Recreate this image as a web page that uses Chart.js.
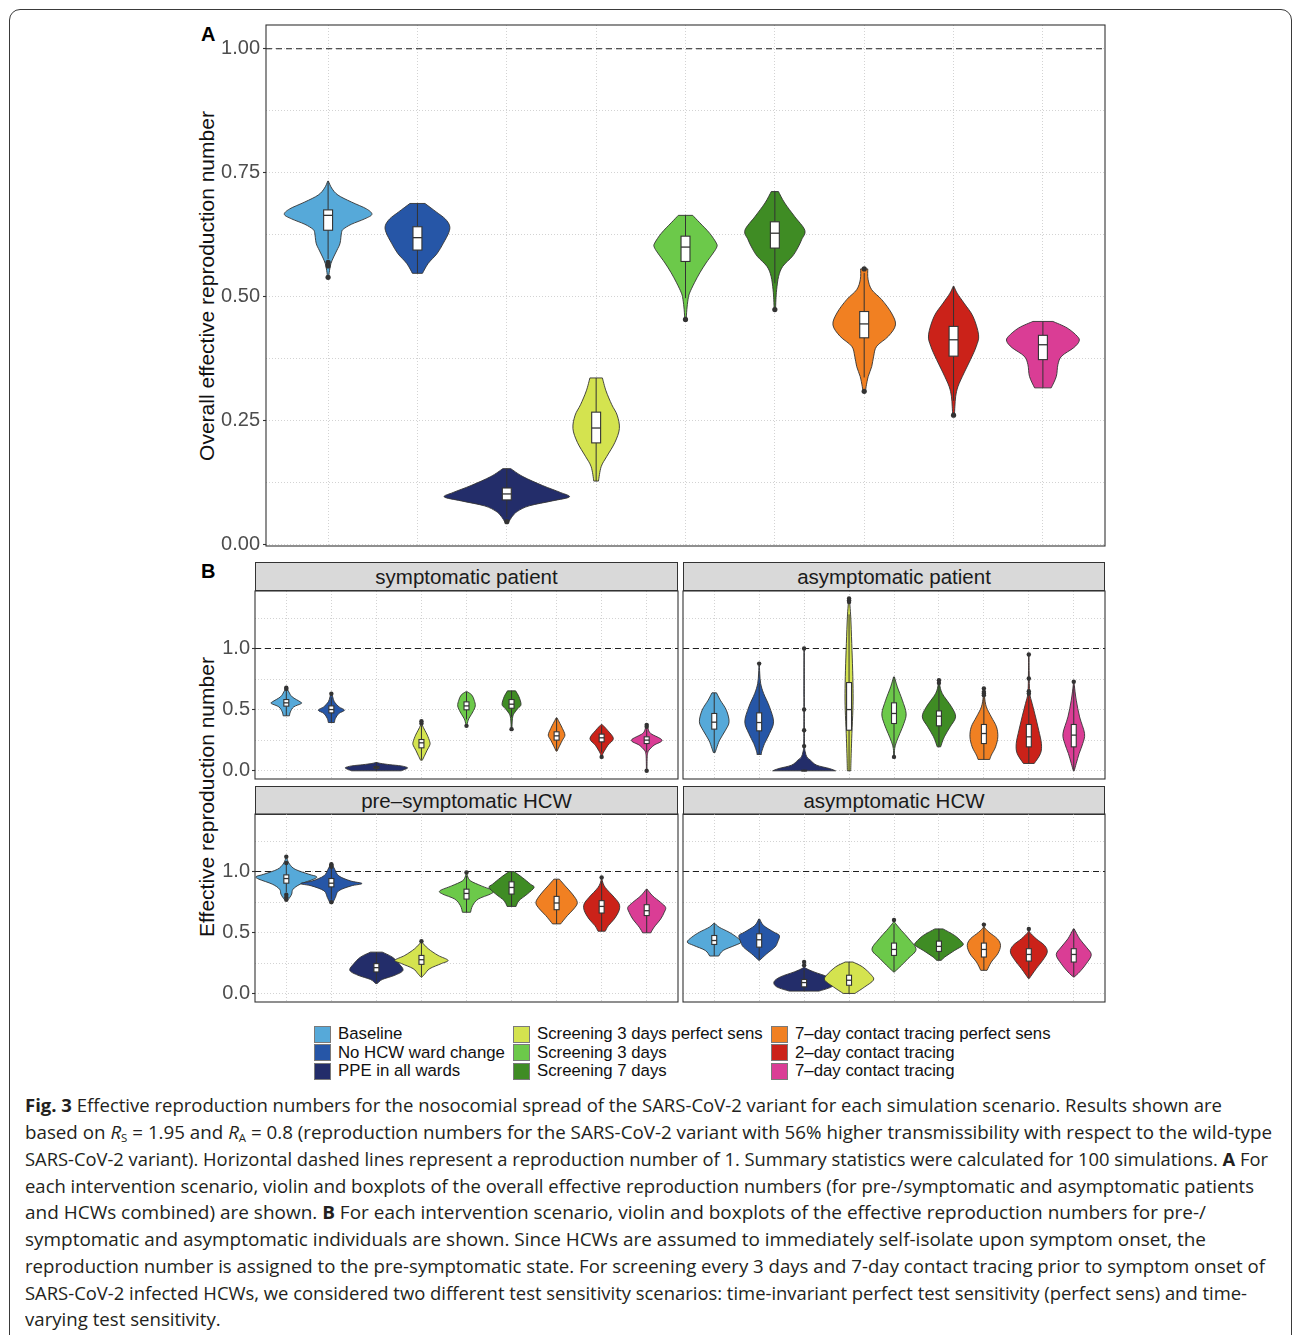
<!DOCTYPE html>
<html>
<head>
<meta charset="utf-8">
<title>Effective reproduction numbers by scenario</title>
<script src="https://cdn.jsdelivr.net/npm/chart.js@4.4.1/dist/chart.umd.min.js"></script>
<style>
html,body{margin:0;padding:0;background:#fff;}
body{width:1293px;height:1335px;position:relative;overflow:hidden;font-family:"Liberation Sans",Arial,sans-serif;}
#frame{position:absolute;left:9px;top:9px;width:1283px;height:1400px;border:1.3px solid #3a3a3a;border-radius:11px;box-sizing:border-box;}
canvas{position:absolute;}
.tag{position:absolute;font-weight:bold;font-size:20px;line-height:20px;color:#000;}
.ytitle{position:absolute;font-size:21px;line-height:24px;color:#111;white-space:nowrap;transform:translate(-50%,-50%) rotate(-90deg);}
.strip{position:absolute;box-sizing:border-box;background:#d9d9d9;border:1px solid #333;font-size:20.5px;line-height:27px;color:#1a1a1a;text-align:center;}
.leg-key{position:absolute;width:17px;height:17px;box-sizing:border-box;border:1px solid #7a7a7a;}
.leg-txt{position:absolute;font-size:16.8px;line-height:18px;color:#111;white-space:nowrap;}
.cap{position:absolute;left:25px;font-family:"Open Sans",sans-serif;font-size:18px;line-height:26px;color:#231f20;white-space:nowrap;transform-origin:0 50%;}
.cap b{font-weight:700;}
.cap sub{font-size:11px;vertical-align:-3px;line-height:0;}
</style>
</head>
<body>
<div id="frame"></div>

<div class="tag" style="left:201px;top:24px;">A</div>
<div class="tag" style="left:201px;top:561px;">B</div>
<div class="ytitle" style="left:207px;top:286px;">Overall effective reproduction number</div>
<div class="ytitle" style="left:207px;top:797px;">Effective reproduction number</div>

<div class="strip" style="left:255px;top:562px;width:423px;height:29px;">symptomatic patient</div>
<div class="strip" style="left:683px;top:562px;width:422px;height:29px;">asymptomatic patient</div>
<div class="strip" style="left:255px;top:786px;width:423px;height:29px;">pre&#8211;symptomatic HCW</div>
<div class="strip" style="left:683px;top:786px;width:422px;height:29px;">asymptomatic HCW</div>

<div id="legend"></div>

<div class="cap" style="top:1092px;"><b>Fig. 3</b> Effective reproduction numbers for the nosocomial spread of the SARS-CoV-2 variant for each simulation scenario. Results shown are</div>
<div class="cap" style="top:1119px;">based on <i>R</i><sub>S</sub> = 1.95 and <i>R</i><sub>A</sub> = 0.8 (reproduction numbers for the SARS-CoV-2 variant with 56% higher transmissibility with respect to the wild-type</div>
<div class="cap" style="top:1146px;">SARS-CoV-2 variant). Horizontal dashed lines represent a reproduction number of 1. Summary statistics were calculated for 100 simulations. <b>A</b> For</div>
<div class="cap" style="top:1173px;">each intervention scenario, violin and boxplots of the overall effective reproduction numbers (for pre-/symptomatic and asymptomatic patients</div>
<div class="cap" style="top:1199px;">and HCWs combined) are shown. <b>B</b> For each intervention scenario, violin and boxplots of the effective reproduction numbers for pre-/</div>
<div class="cap" style="top:1226px;">symptomatic and asymptomatic individuals are shown. Since HCWs are assumed to immediately self-isolate upon symptom onset, the</div>
<div class="cap" style="top:1253px;">reproduction number is assigned to the pre-symptomatic state. For screening every 3 days and 7-day contact tracing prior to symptom onset of</div>
<div class="cap" style="top:1280px;">SARS-CoV-2 infected HCWs, we considered two different test sensitivity scenarios: time-invariant perfect test sensitivity (perfect sens) and time-</div>
<div class="cap" style="top:1306px;">varying test sensitivity.</div>

<script>
// ---- scenarios -------------------------------------------------------------
const scenarios = [
  'Baseline', 'No HCW ward change', 'PPE in all wards',
  'Screening 3 days perfect sens', 'Screening 3 days', 'Screening 7 days',
  '7\u2013day contact tracing perfect sens', '2\u2013day contact tracing', '7\u2013day contact tracing'
];
const fills = ['#56a9d9', '#2656a7', '#232d6a', '#d4e34f', '#6cc94a', '#3f8c24', '#f18022', '#cb2219', '#da3d95'];
const xCategories = [1, 2, 3, 4, 5, 6, 7, 8, 9];

// ---- axis ticks --------------------------------------------------------------
const overallTicks = [0, 0.25, 0.5, 0.75, 1.0];
const overallTickLabels = ['0.00', '0.25', '0.50', '0.75', '1.00'];
const overallMinor = [0.125, 0.375, 0.625, 0.875];
const typeTicks = [0, 0.5, 1.0];
const typeTickLabels = ['0.0', '0.5', '1.0'];
const typeMinor = [0.25, 0.75, 1.25];
const refValue = 1;

// ---- A: overall R (box stats = [lower whisker, Q1, median, Q3, upper whisker]) ----
const overallStats = [
  [0.576, 0.634, 0.664, 0.675, 0.733],
  [0.547, 0.594, 0.619, 0.641, 0.688],
  [0.055, 0.090, 0.102, 0.114, 0.153],
  [0.128, 0.205, 0.235, 0.267, 0.336],
  [0.497, 0.571, 0.600, 0.622, 0.664],
  [0.527, 0.598, 0.628, 0.651, 0.712],
  [0.337, 0.417, 0.445, 0.470, 0.548],
  [0.290, 0.380, 0.413, 0.440, 0.521],
  [0.316, 0.373, 0.403, 0.422, 0.450]
];
const overallOutliers = [[0.569, 0.562, 0.539], [], [0.046], [], [0.454], [0.474], [0.556, 0.309], [0.261], []];
// kernel density profiles: [R value, half-width in category units]
const overallDensity = [
  [[0.539,0.006],[0.553,0.016],[0.567,0.032],[0.580,0.062],[0.594,0.10],[0.608,0.134],[0.629,0.15],[0.636,0.17],[0.646,0.26],[0.657,0.41],[0.666,0.49],[0.677,0.43],[0.691,0.26],[0.705,0.11],[0.719,0.04],[0.733,0.004]],
  [[0.547,0.056],[0.567,0.12],[0.587,0.22],[0.608,0.29],[0.629,0.35],[0.643,0.36],[0.657,0.31],[0.671,0.21],[0.688,0.084]],
  [[0.045,0.02],[0.057,0.063],[0.067,0.12],[0.078,0.25],[0.088,0.51],[0.096,0.70],[0.105,0.60],[0.119,0.40],[0.137,0.18],[0.153,0.045]],
  [[0.128,0.026],[0.157,0.056],[0.178,0.12],[0.206,0.21],[0.234,0.26],[0.261,0.235],[0.282,0.175],[0.310,0.11],[0.336,0.07]],
  [[0.454,0.008],[0.474,0.015],[0.494,0.028],[0.507,0.045],[0.528,0.10],[0.548,0.16],[0.568,0.23],[0.588,0.31],[0.600,0.35],[0.608,0.345],[0.628,0.27],[0.649,0.16],[0.664,0.08]],
  [[0.474,0.008],[0.494,0.012],[0.514,0.02],[0.541,0.042],[0.561,0.088],[0.581,0.195],[0.598,0.255],[0.615,0.30],[0.634,0.335],[0.662,0.22],[0.689,0.11],[0.712,0.04]],
  [[0.309,0.015],[0.319,0.022],[0.339,0.045],[0.359,0.084],[0.380,0.106],[0.400,0.14],[0.420,0.27],[0.443,0.35],[0.467,0.305],[0.494,0.196],[0.514,0.084],[0.535,0.043],[0.556,0.04]],
  [[0.261,0.01],[0.279,0.015],[0.299,0.024],[0.319,0.05],[0.346,0.117],[0.373,0.19],[0.400,0.255],[0.423,0.28],[0.460,0.218],[0.487,0.117],[0.507,0.04],[0.521,0.004]],
  [[0.316,0.093],[0.339,0.15],[0.363,0.168],[0.380,0.21],[0.397,0.345],[0.410,0.405],[0.420,0.385],[0.437,0.27],[0.450,0.112]]
];

// ---- B: symptomatic patient ---------------------------------------------------
const symPatientStats = [
  [0.45, 0.529, 0.556, 0.583, 0.66],
  [0.395, 0.474, 0.501, 0.531, 0.60],
  [0.0, 0.020, 0.027, 0.035, 0.065],
  [0.09, 0.188, 0.229, 0.256, 0.37],
  [0.42, 0.499, 0.531, 0.564, 0.646],
  [0.44, 0.512, 0.545, 0.583, 0.654],
  [0.165, 0.251, 0.286, 0.319, 0.433],
  [0.15, 0.237, 0.270, 0.300, 0.37],
  [0.15, 0.223, 0.251, 0.278, 0.34]
];
const symPatientOutliers = [[0.68, 0.67], [0.63], [], [0.406, 0.387], [0.368], [0.341], [], [0.114], [0.376, 0.36, 0.0]];
const symPatientDensity = [
  [[0.45,0.07],[0.482,0.09],[0.523,0.165],[0.55,0.33],[0.564,0.31],[0.605,0.13],[0.646,0.055],[0.68,0.01]],
  [[0.395,0.067],[0.428,0.09],[0.469,0.165],[0.496,0.29],[0.523,0.17],[0.564,0.067],[0.605,0.03],[0.632,0.01]],
  [[0.0,0.55],[0.01,0.62],[0.025,0.69],[0.04,0.55],[0.05,0.30],[0.06,0.10],[0.068,0.02]],
  [[0.087,0.02],[0.128,0.074],[0.169,0.126],[0.21,0.185],[0.237,0.185],[0.292,0.13],[0.332,0.074],[0.373,0.02],[0.406,0.008]],
  [[0.368,0.008],[0.414,0.037],[0.441,0.074],[0.482,0.14],[0.531,0.195],[0.578,0.17],[0.619,0.12],[0.646,0.02]],
  [[0.341,0.008],[0.428,0.02],[0.469,0.055],[0.51,0.14],[0.542,0.21],[0.605,0.165],[0.654,0.09]],
  [[0.161,0.01],[0.21,0.074],[0.251,0.13],[0.292,0.185],[0.346,0.13],[0.387,0.074],[0.433,0.01]],
  [[0.114,0.008],[0.142,0.03],[0.169,0.07],[0.21,0.14],[0.264,0.26],[0.332,0.13],[0.379,0.01]],
  [[0.0,0.006],[0.1,0.01],[0.142,0.02],[0.169,0.05],[0.21,0.165],[0.251,0.34],[0.305,0.09],[0.346,0.03],[0.376,0.01]]
];

// ---- B: asymptomatic patient ------------------------------------------------
const asymPatientStats = [
  [0.15, 0.341, 0.398, 0.469, 0.638],
  [0.134, 0.327, 0.395, 0.474, 0.72],
  [0.0, 0.0, 0.0, 0.005, 0.01],
  [0.0, 0.332, 0.501, 0.722, 1.28],
  [0.19, 0.387, 0.469, 0.556, 0.768],
  [0.196, 0.368, 0.447, 0.49, 0.70],
  [0.093, 0.223, 0.305, 0.379, 0.60],
  [0.06, 0.196, 0.278, 0.379, 0.64],
  [0.0, 0.196, 0.292, 0.379, 0.70]
];
const asymPatientOutliers = [[], [0.877], [1.0, 0.501, 0.332, 0.202], [1.41, 1.395, 1.38], [0.114], [0.741, 0.719], [0.673, 0.646, 0.632, 0.619], [0.951, 0.755, 0.651, 0.632], [0.728]];
const asymPatientDensity = [
  [[0.15,0.02],[0.183,0.05],[0.251,0.12],[0.332,0.25],[0.401,0.33],[0.496,0.27],[0.578,0.135],[0.638,0.05]],
  [[0.134,0.05],[0.155,0.055],[0.223,0.12],[0.305,0.23],[0.401,0.32],[0.523,0.23],[0.632,0.10],[0.714,0.033],[0.80,0.012],[0.877,0.005]],
  [[0.0,0.70],[0.019,0.56],[0.046,0.28],[0.087,0.14],[0.114,0.06],[0.155,0.025],[0.2,0.01],[0.35,0.006],[0.6,0.005],[1.0,0.004]],
  [[0.0,0.037],[0.142,0.048],[0.305,0.063],[0.496,0.085],[0.632,0.09],[0.823,0.08],[1.041,0.06],[1.259,0.037],[1.41,0.008]],
  [[0.114,0.008],[0.183,0.015],[0.237,0.055],[0.305,0.13],[0.387,0.22],[0.469,0.27],[0.578,0.185],[0.687,0.074],[0.768,0.01]],
  [[0.196,0.037],[0.278,0.12],[0.36,0.25],[0.441,0.37],[0.523,0.28],[0.632,0.074],[0.708,0.015],[0.741,0.008]],
  [[0.093,0.13],[0.128,0.165],[0.196,0.26],[0.278,0.31],[0.36,0.28],[0.441,0.165],[0.523,0.055],[0.605,0.015],[0.673,0.008]],
  [[0.06,0.12],[0.142,0.26],[0.223,0.28],[0.332,0.22],[0.441,0.15],[0.55,0.074],[0.638,0.02],[0.8,0.008],[0.951,0.005]],
  [[0.0,0.01],[0.06,0.055],[0.142,0.12],[0.223,0.2],[0.305,0.24],[0.441,0.13],[0.578,0.055],[0.70,0.012],[0.728,0.006]]
];

// ---- B: pre-symptomatic HCW -------------------------------------------------
const preHcwStats = [
  [0.83, 0.905, 0.943, 0.973, 1.06],
  [0.77, 0.875, 0.905, 0.943, 1.03],
  [0.09, 0.179, 0.214, 0.247, 0.341],
  [0.14, 0.241, 0.279, 0.314, 0.42],
  [0.667, 0.775, 0.821, 0.856, 0.965],
  [0.715, 0.816, 0.870, 0.916, 1.0],
  [0.572, 0.688, 0.743, 0.797, 0.938],
  [0.512, 0.661, 0.715, 0.762, 0.92],
  [0.499, 0.640, 0.680, 0.729, 0.856]
];
const preHcwOutliers = [[1.122, 1.07, 0.81, 0.79, 0.77], [1.06, 1.05, 1.04, 0.75], [], [0.431], [0.992], [], [], [0.951], []];
const preHcwDensity = [
  [[0.77,0.04],[0.79,0.08],[0.816,0.12],[0.856,0.15],[0.897,0.31],[0.938,0.61],[0.959,0.67],[0.978,0.50],[1.019,0.195],[1.06,0.074],[1.10,0.02],[1.122,0.006]],
  [[0.75,0.04],[0.789,0.09],[0.843,0.165],[0.883,0.44],[0.902,0.68],[0.924,0.42],[0.965,0.165],[1.019,0.074],[1.06,0.02],[1.073,0.006]],
  [[0.084,0.02],[0.117,0.13],[0.152,0.41],[0.192,0.59],[0.247,0.50],[0.301,0.35],[0.341,0.13]],
  [[0.136,0.01],[0.165,0.08],[0.206,0.185],[0.247,0.44],[0.274,0.59],[0.314,0.37],[0.369,0.15],[0.423,0.01],[0.431,0.006]],
  [[0.667,0.09],[0.721,0.135],[0.775,0.26],[0.816,0.53],[0.843,0.59],[0.883,0.33],[0.924,0.09],[0.965,0.02],[0.992,0.006]],
  [[0.715,0.1],[0.762,0.165],[0.816,0.35],[0.870,0.50],[0.897,0.42],[0.951,0.24],[1.0,0.055]],
  [[0.572,0.09],[0.64,0.24],[0.694,0.38],[0.748,0.46],[0.816,0.35],[0.883,0.19],[0.938,0.06]],
  [[0.512,0.08],[0.558,0.15],[0.612,0.28],[0.68,0.385],[0.734,0.39],[0.789,0.28],[0.87,0.08],[0.924,0.015],[0.951,0.006]],
  [[0.499,0.09],[0.545,0.165],[0.612,0.31],[0.667,0.39],[0.707,0.42],[0.748,0.31],[0.802,0.13],[0.856,0.01]]
];

// ---- B: asymptomatic HCW ----------------------------------------------------
const asymHcwStats = [
  [0.31, 0.404, 0.436, 0.477, 0.577],
  [0.28, 0.382, 0.442, 0.491, 0.60],
  [0.022, 0.057, 0.092, 0.117, 0.20],
  [0.0, 0.070, 0.111, 0.152, 0.26],
  [0.18, 0.314, 0.363, 0.415, 0.57],
  [0.274, 0.347, 0.388, 0.431, 0.531],
  [0.192, 0.301, 0.363, 0.415, 0.545],
  [0.13, 0.268, 0.322, 0.369, 0.50],
  [0.14, 0.260, 0.322, 0.369, 0.531]
];
const asymHcwOutliers = [[], [], [0.260, 0.233], [], [0.604], [], [0.566], [0.531], []];
const asymHcwDensity = [
  [[0.309,0.1],[0.355,0.2],[0.396,0.46],[0.423,0.60],[0.463,0.50],[0.504,0.33],[0.545,0.11],[0.577,0.01]],
  [[0.274,0.01],[0.328,0.17],[0.382,0.35],[0.423,0.41],[0.477,0.45],[0.504,0.33],[0.558,0.1],[0.612,0.01]],
  [[0.022,0.33],[0.057,0.61],[0.098,0.67],[0.138,0.53],[0.179,0.22],[0.211,0.03],[0.233,0.01],[0.26,0.006]],
  [[0.003,0.13],[0.057,0.35],[0.111,0.54],[0.152,0.50],[0.22,0.3],[0.26,0.085]],
  [[0.179,0.01],[0.22,0.13],[0.287,0.31],[0.363,0.49],[0.45,0.33],[0.518,0.165],[0.585,0.015],[0.604,0.006]],
  [[0.274,0.055],[0.301,0.13],[0.355,0.35],[0.396,0.53],[0.423,0.51],[0.477,0.35],[0.531,0.09]],
  [[0.192,0.07],[0.26,0.165],[0.328,0.31],[0.396,0.37],[0.45,0.3],[0.504,0.115],[0.545,0.01],[0.566,0.006]],
  [[0.125,0.01],[0.206,0.165],[0.274,0.31],[0.341,0.41],[0.396,0.35],[0.45,0.165],[0.504,0.02],[0.531,0.006]],
  [[0.138,0.01],[0.179,0.13],[0.247,0.28],[0.32,0.39],[0.382,0.28],[0.45,0.13],[0.531,0.01]]
];

// ---- drawing ----------------------------------------------------------------
const FONT = '"Liberation Sans", Arial, sans-serif';
const gridColor = '#d3d3d3';
const gridDash = [1, 2];
const outline = '#333333';

// Catmull-Rom path through a list of pixel points
function smooth(ctx, pts) {
  for (let i = 0; i < pts.length - 1; i++) {
    const p0 = pts[Math.max(i - 1, 0)], p1 = pts[i], p2 = pts[i + 1], p3 = pts[Math.min(i + 2, pts.length - 1)];
    ctx.bezierCurveTo(
      p1.x + (p2.x - p0.x) / 6, p1.y + (p2.y - p0.y) / 6,
      p2.x - (p3.x - p1.x) / 6, p2.y - (p3.y - p1.y) / 6,
      p2.x, p2.y);
  }
}

// violins, boxplots, reference line and panel border for one panel
function violinLayer(p) {
  return {
    id: 'violinLayer',
    beforeDatasetsDraw(chart) {
      const {ctx, chartArea: a, scales} = chart;
      const xs = scales.x, ys = scales.y;
      const unit = xs.getPixelForValue(2) - xs.getPixelForValue(1);
      ctx.save();
      ctx.beginPath();
      ctx.rect(a.left, a.top, a.right - a.left, a.bottom - a.top);
      ctx.clip();

      const yr = ys.getPixelForValue(refValue);
      ctx.setLineDash([6, 4]);
      ctx.lineWidth = 1.1;
      ctx.strokeStyle = '#1f1f1f';
      ctx.beginPath();
      ctx.moveTo(a.left, yr);
      ctx.lineTo(a.right, yr);
      ctx.stroke();
      ctx.setLineDash([]);

      p.density.forEach((prof, i) => {
        const cx = xs.getPixelForValue(xCategories[i]);
        const right = prof.map(([v, w]) => ({x: cx + w * unit, y: ys.getPixelForValue(v)}));
        const left = prof.map(([v, w]) => ({x: cx - w * unit, y: ys.getPixelForValue(v)})).reverse();
        ctx.beginPath();
        ctx.moveTo(left[left.length - 1].x, left[left.length - 1].y);
        ctx.lineTo(right[0].x, right[0].y);
        smooth(ctx, right);
        ctx.lineTo(left[0].x, left[0].y);
        smooth(ctx, left);
        ctx.closePath();
        ctx.fillStyle = fills[i];
        ctx.fill();
        ctx.lineWidth = 0.9;
        ctx.strokeStyle = outline;
        ctx.stroke();
      });

      p.stats.forEach(([lo, q1, med, q3, hi], i) => {
        const cx = xs.getPixelForValue(xCategories[i]);
        const half = p.boxW * unit / 2;
        const yLo = ys.getPixelForValue(lo), yQ1 = ys.getPixelForValue(q1), yMed = ys.getPixelForValue(med);
        const yQ3 = ys.getPixelForValue(q3), yHi = ys.getPixelForValue(hi);
        ctx.strokeStyle = outline;
        ctx.lineWidth = 1;
        ctx.beginPath();
        ctx.moveTo(cx, yLo); ctx.lineTo(cx, yQ1);
        ctx.moveTo(cx, yQ3); ctx.lineTo(cx, yHi);
        ctx.stroke();
        ctx.fillStyle = '#ffffff';
        ctx.fillRect(cx - half, yQ3, 2 * half, yQ1 - yQ3);
        ctx.lineWidth = 1.1;
        ctx.strokeRect(cx - half, yQ3, 2 * half, yQ1 - yQ3);
        ctx.beginPath();
        ctx.moveTo(cx - half, yMed); ctx.lineTo(cx + half, yMed);
        ctx.lineWidth = 1.3;
        ctx.stroke();
      });
      ctx.restore();
    },
    afterDraw(chart) {
      const {ctx, chartArea: a} = chart;
      ctx.save();
      ctx.lineWidth = 1.1;
      ctx.strokeStyle = outline;
      ctx.strokeRect(a.left, a.top, a.right - a.left, a.bottom - a.top);
      ctx.restore();
    }
  };
}

function buildPanel(p) {
  const P = 14;
  const c = document.createElement('canvas');
  c.width = p.area[2] + p.axisW + 2 * P;
  c.height = p.area[3] + 2 * P;
  c.style.left = (p.area[0] - p.axisW - P) + 'px';
  c.style.top = (p.area[1] - P) + 'px';
  document.body.appendChild(c);

  const yGrid = [...p.majors, ...p.minor].sort((a, b) => a - b);
  const majorIndex = v => p.majors.findIndex(m => Math.abs(m - v) < 1e-9);

  const datasets = p.outliers.map((vals, i) => ({
    label: scenarios[i],
    data: vals.map(v => ({x: xCategories[i], y: v})),
    pointRadius: p.dot,
    pointHoverRadius: p.dot,
    pointBackgroundColor: outline,
    pointBorderWidth: 0,
    borderColor: outline,
    backgroundColor: outline
  }));

  return new Chart(c, {
    type: 'scatter',
    data: {datasets},
    options: {
      responsive: false,
      animation: false,
      events: [],
      layout: {padding: P, autoPadding: false},
      plugins: {legend: {display: false}, tooltip: {enabled: false}},
      scales: {
        x: {
          type: 'linear', min: 0.305, max: 9.695, bounds: 'data',
          afterBuildTicks: s => { s.ticks = xCategories.map(v => ({value: v})); },
          afterFit: s => { s.height = 0; s.paddingLeft = 0; s.paddingRight = 0; },
          ticks: {display: false},
          grid: {color: gridColor, lineWidth: 1, drawTicks: false},
          border: {display: false, dash: gridDash}
        },
        y: {
          type: 'linear', min: p.yMin, max: p.yMax, bounds: 'data',
          afterBuildTicks: s => { s.ticks = yGrid.map(v => ({value: v})); },
          afterFit: s => { s.width = p.axisW; s.paddingTop = 0; s.paddingBottom = 0; },
          ticks: {
            display: p.axisW > 0, autoSkip: false, padding: p.tickPad,
            color: '#4d4d4d', font: {family: FONT, size: 20},
            callback: v => { const k = majorIndex(v); return k >= 0 ? p.labels[k] : ''; }
          },
          grid: {
            color: gridColor, lineWidth: 1, drawTicks: p.axisW > 0, tickLength: 3, tickWidth: 1.1,
            tickColor: ctx => (ctx.tick && majorIndex(ctx.tick.value) >= 0) ? outline : 'rgba(0,0,0,0)'
          },
          border: {display: false, dash: gridDash}
        }
      }
    },
    plugins: [violinLayer(p)]
  });
}

const panelA = {stats: overallStats, outliers: overallOutliers, density: overallDensity,
  area: [266, 25, 839, 521], yMin: -0.003, yMax: 1.048,
  majors: overallTicks, labels: overallTickLabels, minor: overallMinor,
  axisW: 70, tickPad: 3, boxW: 0.1, dot: 2.6};
const typeAxis = {yMin: -0.067, yMax: 1.471, majors: typeTicks, labels: typeTickLabels, minor: typeMinor, boxW: 0.11, dot: 2.2, tickPad: 2};

buildPanel(panelA);
buildPanel(Object.assign({stats: symPatientStats, outliers: symPatientOutliers, density: symPatientDensity, area: [255, 591, 423, 188], axisW: 45}, typeAxis));
buildPanel(Object.assign({stats: asymPatientStats, outliers: asymPatientOutliers, density: asymPatientDensity, area: [683, 591, 422, 188], axisW: 0}, typeAxis));
buildPanel(Object.assign({stats: preHcwStats, outliers: preHcwOutliers, density: preHcwDensity, area: [255, 814, 423, 188], axisW: 45}, typeAxis));
buildPanel(Object.assign({stats: asymHcwStats, outliers: asymHcwOutliers, density: asymHcwDensity, area: [683, 814, 422, 188], axisW: 0}, typeAxis));

// ---- legend (three rows, filled column by column) ----------------------------
(function legend() {
  const host = document.getElementById('legend');
  const colX = [314, 513, 771];
  const rowY = [1034, 1052.5, 1071];
  scenarios.forEach((name, i) => {
    const col = Math.floor(i / 3), row = i % 3;
    const key = document.createElement('div');
    key.className = 'leg-key';
    key.style.left = colX[col] + 'px';
    key.style.top = (rowY[row] - 8.5) + 'px';
    key.style.background = fills[i];
    host.appendChild(key);
    const txt = document.createElement('div');
    txt.className = 'leg-txt';
    txt.style.left = (colX[col] + 24) + 'px';
    txt.style.top = (rowY[row] - 9) + 'px';
    txt.textContent = name;
    host.appendChild(txt);
  });
})();

// ---- caption: justify each line to its measured right edge ----------------------
const captionRight = [1222, 1272, 1268, 1254, 1206, 1206, 1265, 1247];
function fitCaption() {
  const lines = Array.from(document.querySelectorAll('.cap'));
  let sum = 0;
  lines.forEach(el => { el.style.transform = 'none'; });
  lines.forEach((el, i) => {
    if (i < captionRight.length) {
      const w = el.getBoundingClientRect().width;
      const s = (captionRight[i] - 25) / w;
      sum += s;
      el.style.transform = 'scaleX(' + s + ')';
    }
  });
  const avg = sum / captionRight.length;
  lines.slice(captionRight.length).forEach(el => { el.style.transform = 'scaleX(' + avg + ')'; });
}
fitCaption();
if (document.fonts && document.fonts.ready) document.fonts.ready.then(fitCaption);
</script>
</body>
</html>
